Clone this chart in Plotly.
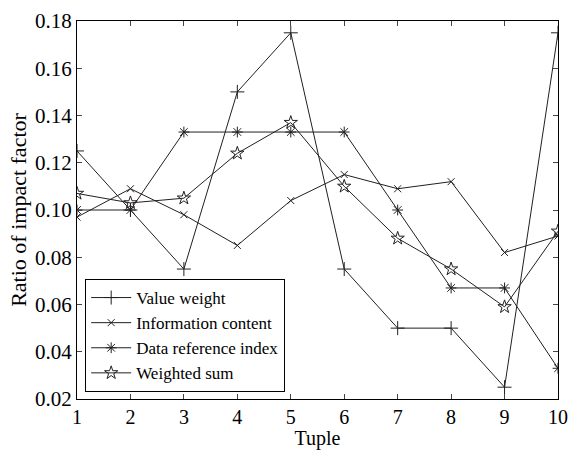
import plotly.graph_objects as go

tuples = [1, 2, 3, 4, 5, 6, 7, 8, 9, 10]
value_weight = [0.125, 0.100, 0.075, 0.150, 0.175, 0.075, 0.050, 0.050, 0.025, 0.175]
information_content = [0.097, 0.109, 0.098, 0.085, 0.104, 0.115, 0.109, 0.112, 0.082, 0.089]
data_reference_index = [0.100, 0.100, 0.133, 0.133, 0.133, 0.133, 0.100, 0.067, 0.067, 0.033]
weighted_sum = [0.107, 0.103, 0.105, 0.124, 0.137, 0.110, 0.088, 0.075, 0.059, 0.091]
y_ticks = [0.02, 0.04, 0.06, 0.08, 0.10, 0.12, 0.14, 0.16, 0.18]

col = "#231f20"
series = [
    ("Value weight", value_weight, "cross-thin-open", 10),
    ("Information content", information_content, "x-thin-open", 7),
    ("Data reference index", data_reference_index, "asterisk-open", 9),
    ("Weighted sum", weighted_sum, "star-open", 10),
]

fig = go.Figure()
for name, vals, sym, sz in series:
    fig.add_trace(go.Scatter(
        x=tuples, y=vals, name=name, mode="lines+markers",
        line=dict(color=col, width=1),
        marker=dict(symbol=sym, size=sz, color=col, line=dict(color=col, width=1)),
    ))

fam = "Liberation Serif, Times New Roman, serif"
xfont = dict(family=fam, size=20, color="black")
yfont = dict(family=fam, size=21, color="black")
fig.update_layout(
    width=570, height=450,
    margin=dict(l=77, r=12, t=21, b=51),
    paper_bgcolor="white", plot_bgcolor="white",
    font=xfont,
    showlegend=True,
    legend=dict(x=0.017, y=0.0185, xanchor="left", yanchor="bottom",
                bordercolor="black", borderwidth=1, bgcolor="white",
                font=dict(family=fam, size=17, color="black"),
                tracegroupgap=0, itemwidth=40),
)
fig.update_xaxes(range=[1, 10], tickvals=tuples, ticks="inside", ticklen=5,
                 showline=True, linecolor="black", linewidth=1, mirror="ticks",
                 showgrid=False, zeroline=False, automargin=False,
                 title=dict(text="Tuple", standoff=0, font=xfont), tickfont=xfont)
fig.update_yaxes(range=[0.02, 0.18], tickvals=y_ticks, tickformat=".2f",
                 ticks="inside", ticklen=5,
                 showline=True, linecolor="black", linewidth=1, mirror="ticks",
                 showgrid=False, zeroline=False, automargin=False,
                 title=dict(text="Ratio of impact factor", standoff=2,
                            font=dict(family=fam, size=22, color="black")),
                 tickfont=yfont)

fig.write_html("out.html", config={"displayModeBar": False},
               post_script="document.body.style.margin='0';document.body.style.overflow='hidden';")
